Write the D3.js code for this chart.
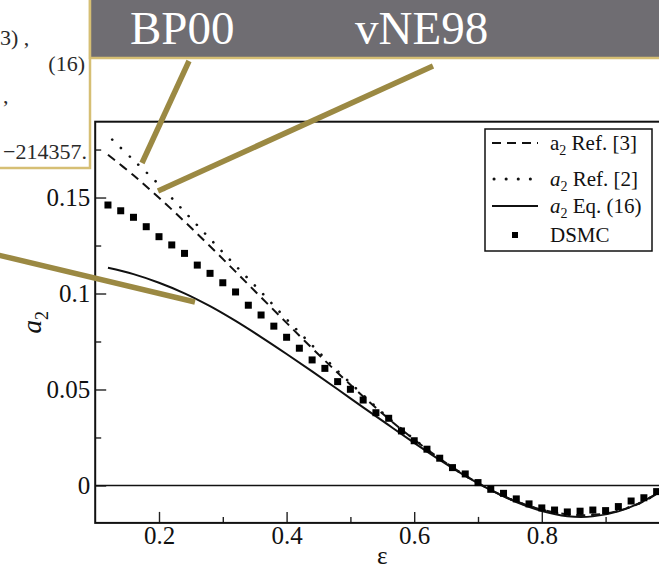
<!DOCTYPE html>
<html><head><meta charset="utf-8">
<script src="https://cdn.jsdelivr.net/npm/d3@7/dist/d3.min.js"></script>
<style>
  body { margin: 0; background: #fff; }
  svg { display: block; }
  text { font-family: "Liberation Serif", "Times New Roman", serif; }
</style>
</head><body>
<svg id="chart" width="659" height="571"></svg>
<script>
// restitution coefficient grid for the theory curves
const epsCurve = [0.12, 0.16, 0.20, 0.24, 0.28, 0.32, 0.36, 0.40, 0.44, 0.48, 0.52, 0.56,
                  0.60, 0.64, 0.68, 0.72, 0.76, 0.80, 0.84, 0.88, 0.92, 0.96, 1.00];
// a2, Ref. [3] (dashed)
const a2Ref3 = [0.1723, 0.1616, 0.1499, 0.1375, 0.1246, 0.1114, 0.0980, 0.0847, 0.0715, 0.0587, 0.0464, 0.0347,
                0.0239, 0.0140, 0.0052, -0.0023, -0.0083, -0.0126, -0.0150, -0.0153, -0.0132, -0.0082, 0.0];
// a2, Ref. [2] (dotted)
const a2Ref2 = [0.1823, 0.1695, 0.1567, 0.1426, 0.1285, 0.1145, 0.1008, 0.0866, 0.0730, 0.0597, 0.0471, 0.0351,
                0.0241, 0.0140, 0.0051, -0.0024, -0.0084, -0.0127, -0.0151, -0.0153, -0.0131, -0.0082, 0.0];
// a2, Eq. (16) (solid)
const a2Eq16 = [0.1134, 0.1101, 0.1056, 0.1001, 0.0934, 0.0857, 0.0773, 0.0685, 0.0594, 0.0501, 0.0407, 0.0314,
                0.0222, 0.0133, 0.0050, -0.0024, -0.0086, -0.0133, -0.0160, -0.0161, -0.0135, -0.0080, 0.0];
// DSMC simulation results
const epsDsmc = [0.12, 0.14, 0.16, 0.18, 0.20, 0.22, 0.24, 0.26, 0.28, 0.30, 0.32, 0.34, 0.36, 0.38, 0.40,
                 0.42, 0.44, 0.46, 0.48, 0.50, 0.52, 0.54, 0.56, 0.58, 0.60, 0.62, 0.64, 0.66, 0.68, 0.70,
                 0.72, 0.74, 0.76, 0.78, 0.80, 0.82, 0.84, 0.86, 0.88, 0.90, 0.92, 0.94, 0.96, 0.98];
const a2Dsmc = [0.1461, 0.1431, 0.1397, 0.1348, 0.1296, 0.1253, 0.1209, 0.1148, 0.1105, 0.1056, 0.1008, 0.0939,
                0.0888, 0.0830, 0.0772, 0.0715, 0.0654, 0.0610, 0.0541, 0.0501, 0.0445, 0.0379, 0.0350, 0.0284,
                0.0233, 0.0189, 0.0142, 0.0093, 0.0060, 0.0015, -0.0020, -0.0041, -0.0070, -0.0096, -0.0117,
                -0.0128, -0.0138, -0.0134, -0.0128, -0.0131, -0.0110, -0.0081, -0.0064, -0.0032];

const xMajor = [0.2, 0.4, 0.6, 0.8];
const xMinor = [0.3, 0.5, 0.7, 0.9];
const yMajor = [0, 0.05, 0.1, 0.15];
const yMinor = [0.025, 0.075, 0.125, 0.175];
const xTickText = ["0.2", "0.4", "0.6", "0.8"];
const yTickText = ["0", "0.05", "0.1", "0.15"];

const legendItems = [
  { label: "Ref. [3]", italic: false, kind: "dashed" },
  { label: "Ref. [2]", italic: true, kind: "dotted" },
  { label: "Eq. (16)", italic: true, kind: "solid" },
  { label: "DSMC", italic: false, kind: "square" }
];

const svg = d3.select("#chart");
const x = d3.scaleLinear().domain([0.1, 1.0]).range([95.2, 669.4]);
const y = d3.scaleLinear().domain([-0.0195, 0.1895]).range([522.9, 121.7]);

const plot = svg.append("g");
const [x0, x1] = x.range();
const [yb, yt] = y.range();

plot.append("clipPath").attr("id", "clip")
  .append("rect").attr("x", x0).attr("y", yt).attr("width", x1 - x0).attr("height", yb - yt);

// ticks (inward) with d3 axes
const tickStyle = g => {
  g.attr("font-family", null);
  g.select(".domain").remove();
  g.selectAll(".tick line").attr("stroke", "#222").attr("stroke-width", 1.4);
  g.selectAll(".tick text").attr("fill", "#111").style("font-size", "25px")
    .style("font-family", "'Liberation Serif', serif");
};
plot.append("g").attr("transform", `translate(0,${yb})`)
  .call(d3.axisBottom(x).tickValues(xMajor).tickSize(-11).tickPadding(3)
    .tickFormat((d, i) => xTickText[i]))
  .call(tickStyle);
plot.append("g").attr("transform", `translate(0,${yb})`)
  .call(d3.axisBottom(x).tickValues(xMinor).tickSize(-6).tickFormat(""))
  .call(tickStyle);
plot.append("g").attr("transform", `translate(${x0},0)`)
  .call(d3.axisLeft(y).tickValues(yMajor).tickSize(-11).tickPadding(5)
    .tickFormat((d, i) => yTickText[i]))
  .call(tickStyle);
plot.append("g").attr("transform", `translate(${x0},0)`)
  .call(d3.axisLeft(y).tickValues(yMinor).tickSize(-6).tickFormat(""))
  .call(tickStyle);

// zero reference line
plot.append("line").attr("x1", x0).attr("x2", x1).attr("y1", y(0)).attr("y2", y(0))
  .attr("stroke", "#111").attr("stroke-width", 1.6);

const curves = plot.append("g").attr("clip-path", "url(#clip)");
const line = d3.line().x(d => x(d[0])).y(d => y(d[1])).curve(d3.curveCatmullRom);
const series = (vals) => epsCurve.map((e, i) => [e, vals[i]]);

curves.append("path").datum(series(a2Ref3)).attr("d", line)
  .attr("fill", "none").attr("stroke", "#111").attr("stroke-width", 2)
  .attr("stroke-dasharray", "9,6");
curves.append("path").datum(series(a2Ref2)).attr("d", line)
  .attr("fill", "none").attr("stroke", "#111").attr("stroke-width", 2.6)
  .attr("stroke-dasharray", "0.1,11.9").attr("stroke-linecap", "round")
  .attr("stroke-dashoffset", -6);
curves.append("path").datum(series(a2Eq16)).attr("d", line)
  .attr("fill", "none").attr("stroke", "#111").attr("stroke-width", 2);

const sq = 7;
curves.selectAll("rect.dsmc").data(epsDsmc.map((e, i) => [e, a2Dsmc[i]])).enter()
  .append("rect").attr("class", "dsmc")
  .attr("x", d => x(d[0]) - sq / 2).attr("y", d => y(d[1]) - sq / 2)
  .attr("width", sq).attr("height", sq).attr("fill", "#000");

// frame
plot.append("rect").attr("x", x0).attr("y", yt).attr("width", x1 - x0).attr("height", yb - yt)
  .attr("fill", "none").attr("stroke", "#111").attr("stroke-width", 2);

// axis titles
plot.append("text").attr("x", (x0 + x1) / 2).attr("y", 564).attr("text-anchor", "middle")
  .style("font-size", "25px").attr("fill", "#111").text("ε");
const yl = plot.append("text").attr("transform", `translate(41,${(yt + yb) / 2}) rotate(-90)`)
  .attr("text-anchor", "middle").style("font-size", "27px").attr("fill", "#111");
yl.append("tspan").style("font-style", "italic").text("a");
yl.append("tspan").attr("dy", 7).style("font-size", "18px").text("2");

// legend
const rowY = [143, 179, 206, 235];
const lg = plot.append("g");
lg.append("rect").attr("x", 485).attr("y", 129).attr("width", 167).attr("height", 122)
  .attr("fill", "#fff").attr("stroke", "#111").attr("stroke-width", 1.5);
legendItems.forEach((it, i) => {
  const cy = rowY[i];
  const g = lg.append("g");
  if (it.kind === "square") {
    g.append("rect").attr("x", 512).attr("y", cy - 3).attr("width", 6).attr("height", 6).attr("fill", "#000");
  } else {
    const l = g.append("line").attr("x1", 492).attr("x2", 538).attr("y1", cy).attr("y2", cy)
      .attr("stroke", "#111").attr("stroke-width", 2);
    if (it.kind === "dashed") l.attr("stroke-dasharray", "9,6");
    if (it.kind === "dotted") l.attr("stroke-dasharray", "0.1,12").attr("stroke-linecap", "round")
      .attr("stroke-width", 3).attr("x1", 494);
  }
  const t = g.append("text").attr("x", 550).attr("y", cy + 7).style("font-size", "21px").attr("fill", "#111");
  if (it.kind !== "square") {
    t.append("tspan").style("font-style", it.italic ? "italic" : "normal").text("a");
    t.append("tspan").attr("dy", 5).style("font-size", "14px").text("2");
    t.append("tspan").attr("dy", -5).text(" " + it.label);
  } else {
    t.text(it.label);
  }
});

// slide overlay: equation excerpt box
const ov = svg.append("g");
ov.append("rect").attr("x", -10).attr("y", -10).attr("width", 100).attr("height", 178)
  .attr("fill", "#fff").attr("stroke", "#d6bf74").attr("stroke-width", 2.5);
const eqText = [
  { t: "3) ,", x: 0, y: 45, anchor: "start" },
  { t: "(16)", x: 85, y: 71, anchor: "end" },
  { t: ",", x: 3, y: 103, anchor: "start" },
  { t: "−214357.", x: 87, y: 159, anchor: "end" }
];
ov.selectAll("text.eq").data(eqText).enter().append("text").attr("class", "eq")
  .attr("x", d => d.x).attr("y", d => d.y).attr("text-anchor", d => d.anchor)
  .style("font-size", "22px").attr("fill", "#2a2a2a").text(d => d.t);

// title banner
ov.append("rect").attr("x", 90).attr("y", -10).attr("width", 600).attr("height", 68)
  .attr("fill", "#6f6d72").attr("stroke", "#d6bf74").attr("stroke-width", 2.5);
const tags = [{ t: "BP00", x: 130 }, { t: "vNE98", x: 355 }];
ov.selectAll("text.tag").data(tags).enter().append("text").attr("class", "tag")
  .attr("x", d => d.x).attr("y", 44).style("font-size", "47px").attr("fill", "#fff").text(d => d.t);

// pointer lines
const pointers = [
  [[189, 61], [142, 163]],
  [[433, 66], [158, 191]],
  [[-2, 255], [195, 302]]
];
ov.selectAll("line.ptr").data(pointers).enter().append("line").attr("class", "ptr")
  .attr("x1", d => d[0][0]).attr("y1", d => d[0][1]).attr("x2", d => d[1][0]).attr("y2", d => d[1][1])
  .attr("stroke", "#9b8943").attr("stroke-width", 5.5);
</script>
</body></html>
